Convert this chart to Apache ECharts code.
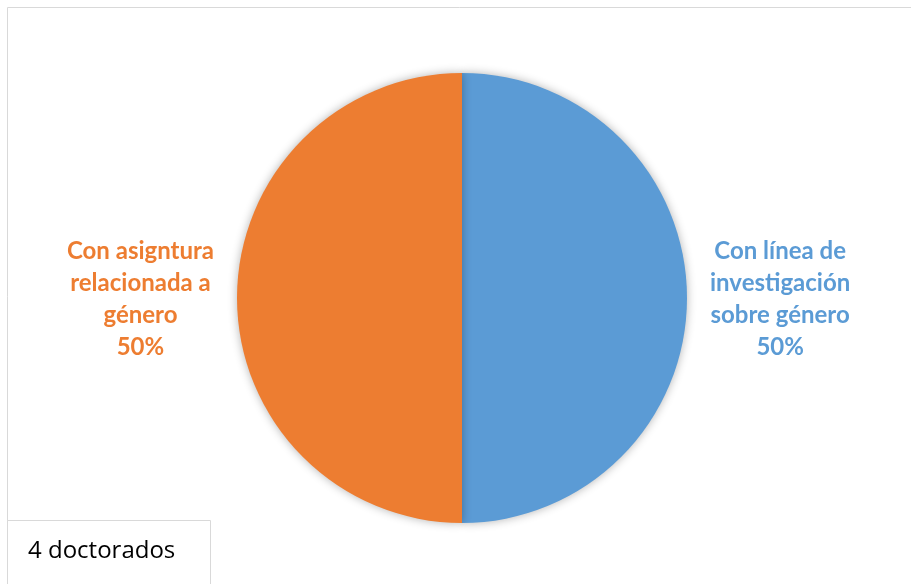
<!DOCTYPE html>
<html>
<head>
<meta charset="utf-8">
<script src="https://cdn.jsdelivr.net/npm/echarts@6/dist/echarts.min.js"></script>
<style>html,body{margin:0;padding:0;background:#fff}#c{width:911px;height:584px}</style>
</head>
<body>
<div id="c"></div>
<script>
const categories = ['Con línea de\ninvestigación\nsobre género', 'Con asigntura\nrelacionada a\ngénero'];
const values = [2, 2];
const colors = ['#5B9BD5', '#ED7D31'];
const note = '4 doctorados';

const chart = echarts.init(document.getElementById('c'));
chart.setOption({
  animation: false,
  title: {
    text: note, left: 23, top: 534,
    textStyle: { fontFamily: 'Open Sans', fontWeight: 'normal', fontSize: 24, color: '#000' }
  },
  graphic: [
    { type: 'rect', shape: { x: 7.5, y: 7.5, width: 1000, height: 1000 }, style: { fill: 'none', stroke: '#d9d9d9', lineWidth: 1 }, z: -10 },
    { type: 'rect', shape: { x: 7.5, y: 520.5, width: 203, height: 100 }, style: { fill: '#fff', stroke: '#d9d9d9', lineWidth: 1 }, z: -5 }
  ],
  series: [{
    type: 'pie',
    center: [462, 298],
    radius: 225,
    startAngle: 90,
    clockwise: true,
    data: categories.map((n, i) => ({ name: n, value: values[i], itemStyle: { color: colors[i] }, label: { color: colors[i] } })),
    itemStyle: { shadowBlur: 10, shadowColor: 'rgba(0,0,0,0.3)' },
    label: {
      show: true,
      position: 'outside',
      formatter: p => p.name + '\n' + Math.round(p.percent) + '%',
      fontFamily: 'Lato',
      fontWeight: 'bold',
      fontSize: 24,
      lineHeight: 32
    },
    labelLine: { show: false, length: 18, length2: 0 },
    labelLayout: function (p) {
      const r = p.labelRect;
      return { x: r.x + r.width / 2, y: r.y + r.height / 2 + 1, align: 'center', verticalAlign: 'middle' };
    },
    emphasis: { disabled: true }
  }]
});
</script>
</body>
</html>
